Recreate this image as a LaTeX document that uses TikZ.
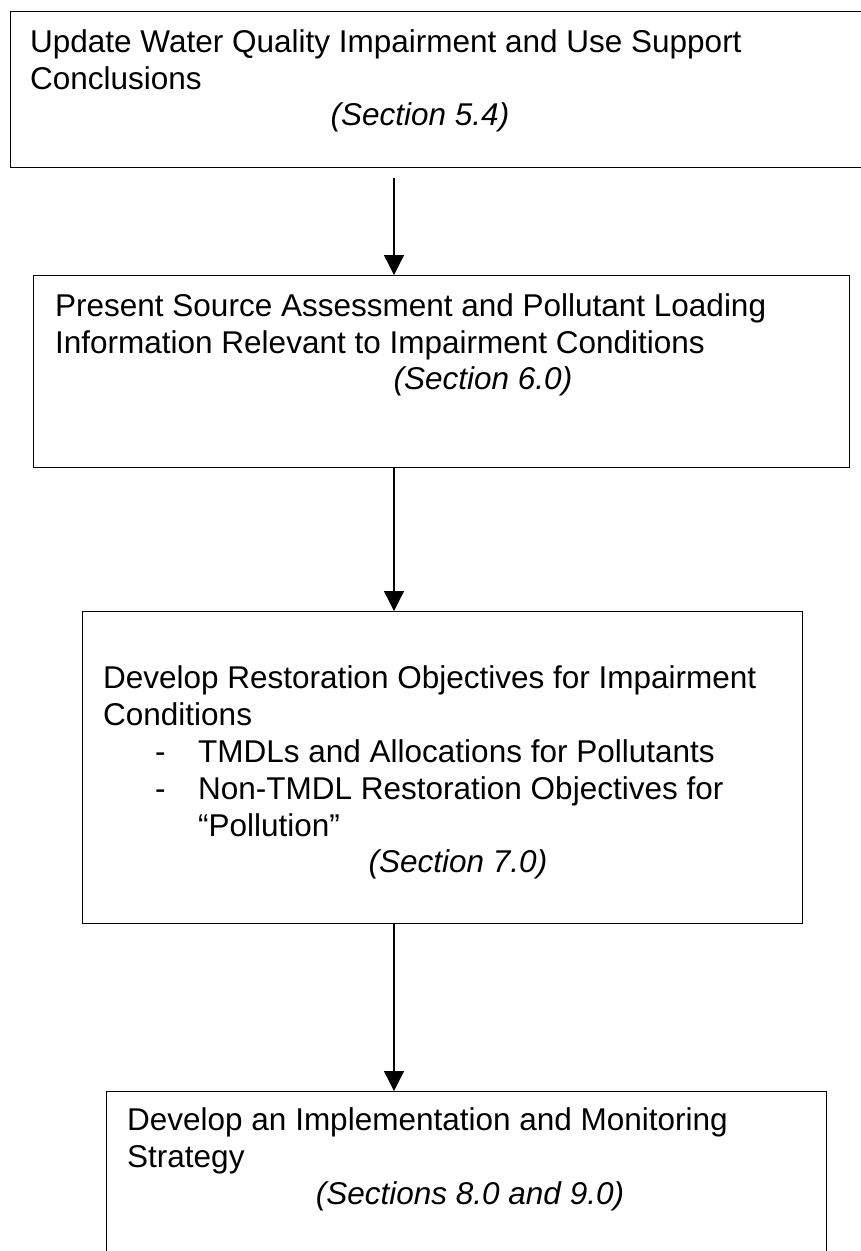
\documentclass[tikz,border=0pt]{standalone}
\usepackage{fontspec}
\setmainfont{Liberation Sans}
\usetikzlibrary{arrows.meta}

\begin{document}
\begin{tikzpicture}[x=1pt,y=-1pt,
    frame/.style={draw, line width=1.4pt, rectangle, anchor=north west, inner sep=0pt},
    txt/.style={anchor=north west, inner sep=0pt, align=left, font=\fontsize{31.5}{37}\selectfont},
    sec/.style={anchor=base, inner sep=0pt, font=\fontsize{31.5}{37}\selectfont\itshape},
    flow/.style={line width=1.4pt, -{Triangle[width=20pt,length=20pt]}}]
  \useasboundingbox (0,0) rectangle (860,1251);

  % boxes
  \node[frame, minimum width=870pt, minimum height=156pt] (update) at (10,11) {};
  \node[frame, minimum width=816pt, minimum height=192pt] (present) at (33,275) {};
  \node[frame, minimum width=720pt, minimum height=312pt] (restore) at (82,611) {};
  \node[frame, minimum width=720pt, minimum height=200pt] (implement) at (106,1091) {};

  % texts
  \node[txt] (updatetxt) at (30,29) {Update Water Quality Impairment and Use Support\\Conclusions};
  \node[sec] (updatesec) at (420,125.5) {(Section 5.4)};

  \node[txt] (presenttxt) at (55,293) {Present Source Assessment and Pollutant Loading\\Information Relevant to Impairment Conditions};
  \node[sec] (presentsec) at (483,389) {(Section 6.0)};

  \node[txt] (restoretxt) at (103,665.5) {Develop Restoration Objectives for Impairment\\
    Conditions\\
    \hspace*{52pt}\makebox[43pt][l]{-}TMDLs and Allocations for Pollutants\\
    \hspace*{52pt}\makebox[43pt][l]{-}Non-TMDL Restoration Objectives for\\
    \hspace*{95pt}``Pollution''};
  \node[sec] (restoresec) at (458,872) {(Section 7.0)};

  \node[txt] (implementtxt) at (127,1107.5) {Develop an Implementation and Monitoring\\Strategy};
  \node[sec] (implementsec) at (470,1204) {(Sections 8.0 and 9.0)};

  % arrows
  \coordinate (axis) at (394,178);
  \draw[flow] (axis) -- (axis |- present.north);
  \draw[flow] (axis |- present.south) -- (axis |- restore.north);
  \draw[flow] (axis |- restore.south) -- (axis |- implement.north);
\end{tikzpicture}
\end{document}
